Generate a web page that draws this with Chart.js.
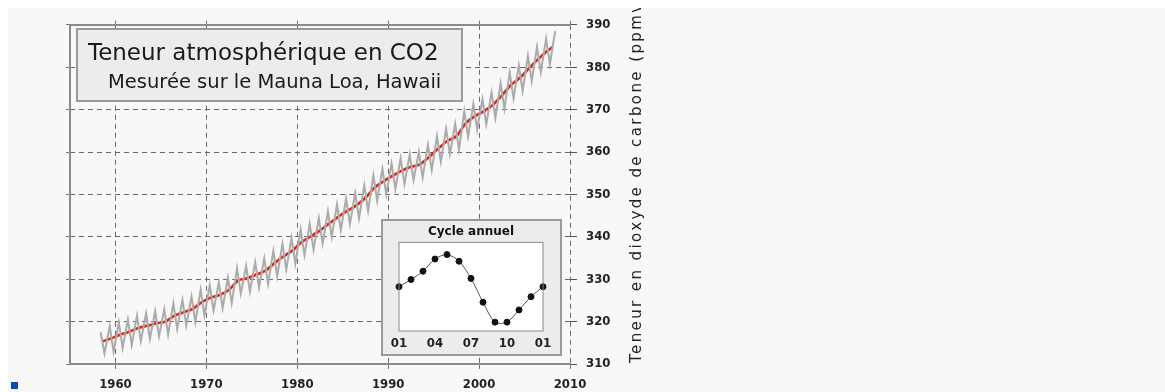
<!DOCTYPE html>
<html>
<head>
<meta charset="utf-8">
<script src="https://cdn.jsdelivr.net/npm/chart.js@4"></script>
<style>
  body { margin: 0; background: #fff; }
  #frame { position: absolute; left: 8px; top: 8px; width: 1157px; height: 384px; background: #f8f8f8; overflow: hidden; }
  #mainChart { position: absolute; left: 0; top: 0; }
  #inset { position: absolute; left: 373px; top: 211px; width: 177px; height: 133px; background: #ececec; border: 2px solid #9a9a9a; }
  #insetChart { position: absolute; left: -2px; top: -2px; }
  #marker { position: absolute; left: 11px; top: 382px; width: 7px; height: 7px; background: #0a4bb8; }
</style>
</head>
<body>
<div id="frame">
  <canvas id="mainChart" width="1157" height="384"></canvas>
  <div id="inset"><canvas id="insetChart" width="181" height="137"></canvas></div>
</div>
<div id="marker"></div>
<script>
// annual mean CO2 (ppmv), Mauna Loa
const trendYears = [1958.5, 1959.5, 1960.5, 1961.5, 1962.5, 1963.5, 1964.5, 1965.5, 1966.5, 1967.5,
    1968.5, 1969.5, 1970.5, 1971.5, 1972.5, 1973.5, 1974.5, 1975.5, 1976.5, 1977.5,
    1978.5, 1979.5, 1980.5, 1981.5, 1982.5, 1983.5, 1984.5, 1985.5, 1986.5, 1987.5,
    1988.5, 1989.5, 1990.5, 1991.5, 1992.5, 1993.5, 1994.5, 1995.5, 1996.5, 1997.5,
    1998.5, 1999.5, 2000.5, 2001.5, 2002.5, 2003.5, 2004.5, 2005.5, 2006.5, 2007.5, 2008.1]
const trendValues = [315.3, 316.0, 316.9, 317.6, 318.5, 319.0, 319.6, 320.0, 321.4, 322.2,
    323.0, 324.6, 325.7, 326.3, 327.5, 329.7, 330.2, 331.1, 332.0, 333.8,
    335.4, 336.8, 338.8, 340.1, 341.5, 343.1, 344.7, 346.1, 347.4, 349.2,
    351.6, 353.1, 354.4, 355.6, 356.5, 357.1, 358.8, 360.8, 362.6, 363.7,
    366.7, 368.4, 369.6, 371.1, 373.3, 375.8, 377.5, 379.8, 381.9, 383.8, 384.8]

// monthly record: spring maxima and autumn minima, one pair per year
const cycleYears = [1958, 1959, 1960, 1961, 1962, 1963, 1964, 1965, 1966, 1967,
    1968, 1969, 1970, 1971, 1972, 1973, 1974, 1975, 1976, 1977,
    1978, 1979, 1980, 1981, 1982, 1983, 1984, 1985, 1986, 1987,
    1988, 1989, 1990, 1991, 1992, 1993, 1994, 1995, 1996, 1997,
    1998, 1999, 2000, 2001, 2002, 2003, 2004, 2005, 2006, 2007, 2008]
const mayPeaks = [317.5, 318.9, 319.8, 320.5, 321.4, 321.9, 322.5, 322.9, 324.3, 325.1,
    325.9, 327.5, 328.6, 329.2, 330.4, 332.6, 333.1, 334.0, 334.9, 336.7,
    338.3, 339.7, 341.7, 343.0, 344.4, 346.0, 347.6, 349.0, 350.3, 352.1,
    354.5, 356.0, 357.3, 358.5, 359.4, 360.0, 361.7, 363.7, 365.5, 366.6,
    369.6, 371.3, 372.5, 374.0, 376.2, 378.7, 380.4, 382.7, 384.8, 386.7, 388.5]
const octTroughs = [312.5, 312.9, 313.8, 314.5, 315.4, 315.9, 316.5, 316.9, 318.3, 319.1,
    319.9, 321.5, 322.6, 323.2, 324.4, 326.6, 327.1, 328.0, 328.9, 330.7,
    332.3, 333.7, 335.7, 337.0, 338.4, 340.0, 341.6, 343.0, 344.3, 346.1,
    348.5, 350.0, 351.3, 352.5, 353.4, 354.0, 355.7, 357.7, 359.5, 360.6,
    363.6, 365.3, 366.5, 368.0, 370.2, 372.7, 374.4, 376.7, 378.8, 380.7]
const peakOffset = 0.37
const troughOffset = 0.79

// annual cycle inset (ppmv departure from the annual mean)
const cycleMonths = [1, 2, 3, 4, 5, 6, 7, 8, 9, 10, 11, 12, 13]
const cycleValues = [0.0, 0.65, 1.4, 2.5, 2.9, 2.3, 0.75, -1.4, -3.2, -3.2, -2.1, -0.9, 0.0]
const cycleTickLabels = { 1: '01', 4: '04', 7: '07', 10: '10', 13: '01' }

const xRange = [1955, 2010]
const yRange = [310, 390]

const titleLines = ['Teneur atmosphérique en CO2', 'Mesurée sur le Mauna Loa, Hawaii']
const axisTitle = 'Teneur en dioxyde de carbone (ppmv)'

const monthly = []
cycleYears.forEach((yr, i) => {
    monthly.push({ x: yr + peakOffset, y: mayPeaks[i] })
    if (i < octTroughs.length) monthly.push({ x: yr + troughOffset, y: octTroughs[i] })
})
const trend = trendYears.map((x, i) => ({ x, y: trendValues[i] }))

const tickFont = { family: "'DejaVu Sans Condensed', 'Liberation Sans Narrow', sans-serif", size: 13, weight: 'bold' }

const decorations = {
    id: 'decorations',
    afterDraw(chart) {
        const ctx = chart.ctx
        // title box
        ctx.save()
        ctx.fillStyle = '#ececec'
        ctx.strokeStyle = '#9a9a9a'
        ctx.lineWidth = 2
        ctx.fillRect(69, 21, 385, 72)
        ctx.strokeRect(69, 21, 385, 72)
        ctx.fillStyle = '#1a1a1a'
        ctx.textBaseline = 'alphabetic'
        ctx.font = "23px 'DejaVu Sans', sans-serif"
        ctx.fillText(titleLines[0], 80, 52)
        ctx.font = "19.5px 'DejaVu Sans', sans-serif"
        ctx.fillText(titleLines[1], 100, 80)
        // right axis title, bottom to top
        ctx.translate(629, 355)
        ctx.rotate(-Math.PI / 2)
        ctx.font = "15px 'DejaVu Sans', sans-serif"
        ctx.letterSpacing = '2.4px'
        ctx.fillStyle = '#222'
        ctx.textBaseline = 'middle'
        ctx.fillText(axisTitle, 0, 0)
        ctx.restore()
    }
}

new Chart(document.getElementById('mainChart'), {
    type: 'line',
    plugins: [decorations],
    data: {
        datasets: [{
            data: monthly,
            borderColor: '#ababab',
            borderWidth: 2,
            pointRadius: 0,
            tension: 0
        }, {
            data: monthly,
            borderColor: '#e6e6e6',
            borderWidth: 0.8,
            pointRadius: 0,
            tension: 0
        }, {
            data: trend,
            borderColor: '#dc2219',
            borderWidth: 2.6,
            pointRadius: 0,
            tension: 0.3
        }]
    },
    options: {
        responsive: false,
        animation: false,
        layout: { padding: 0 },
        plugins: { legend: { display: false }, tooltip: { enabled: false } },
        scales: {
            x: {
                type: 'linear',
                position: 'bottom',
                min: xRange[0],
                max: xRange[1],
                afterFit: s => { s.height = 28 },
                ticks: { stepSize: 10, includeBounds: false, font: tickFont, color: '#222', padding: 8, maxRotation: 0, autoSkip: false, callback: v => String(v) },
                grid: { color: '#6a6a6a', lineWidth: 1, tickLength: 5, tickColor: '#777' },
                border: { color: '#8a8a8a', width: 2, dash: [5, 4] }
            },
            x2: {
                type: 'linear',
                position: 'top',
                min: xRange[0],
                max: xRange[1],
                afterFit: s => { s.height = 15 },
                ticks: { display: false, stepSize: 10, includeBounds: false },
                grid: { drawOnChartArea: false, tickLength: 4, tickColor: '#777' },
                border: { color: '#8a8a8a', width: 2 }
            },
            yL: {
                type: 'linear',
                position: 'left',
                min: yRange[0],
                max: yRange[1],
                afterFit: s => { s.width = 62 },
                ticks: { display: false, stepSize: 10 },
                grid: { drawOnChartArea: false, tickLength: 4, tickColor: '#777' },
                border: { color: '#8a8a8a', width: 2 }
            },
            y: {
                type: 'linear',
                position: 'right',
                min: yRange[0],
                max: yRange[1],
                afterFit: s => { s.width = 595 },
                ticks: { stepSize: 10, font: tickFont, color: '#222', padding: 9 },
                grid: { color: '#6a6a6a', lineWidth: 1, tickLength: 7, tickColor: '#555' },
                border: { display: false, dash: [5, 4] }
            }
        }
    }
})

const insetFrame = {
    id: 'insetFrame',
    beforeDatasetsDraw(chart) {
        const { ctx, chartArea: a } = chart
        ctx.save()
        ctx.fillStyle = '#ffffff'
        ctx.fillRect(a.left, a.top, a.right - a.left, a.bottom - a.top)
        ctx.restore()
    },
    afterDraw(chart) {
        const { ctx, chartArea: a } = chart
        ctx.save()
        ctx.strokeStyle = '#8a8a8a'
        ctx.lineWidth = 1
        ctx.strokeRect(a.left, a.top, a.right - a.left, a.bottom - a.top)
        ctx.restore()
    }
}

new Chart(document.getElementById('insetChart'), {
    type: 'line',
    plugins: [insetFrame],
    data: {
        labels: cycleMonths,
        datasets: [{
            data: cycleMonths.map((m, i) => ({ x: m, y: cycleValues[i] })),
            borderColor: '#555',
            borderWidth: 1,
            pointRadius: 3,
            pointBackgroundColor: '#111',
            pointBorderColor: '#111',
            tension: 0.3,
            clip: false
        }]
    },
    options: {
        responsive: false,
        animation: false,
        layout: { padding: { left: 18, right: 19, top: 0, bottom: 0 } },
        plugins: {
            legend: { display: false },
            tooltip: { enabled: false },
            title: {
                display: true,
                text: 'Cycle annuel',
                font: { family: "'DejaVu Sans', sans-serif", size: 12, weight: 'bold' },
                color: '#111',
                padding: { top: 6, bottom: 3 }
            }
        },
        scales: {
            x: {
                type: 'linear',
                min: 1,
                max: 13,
                afterFit: s => { s.height = 25 },
                ticks: {
                    stepSize: 3,
                    font: tickFont,
                    color: '#222',
                    padding: 5,
                    maxRotation: 0,
                    callback: v => cycleTickLabels[v]
                },
                grid: { drawOnChartArea: false, tickLength: 0 },
                border: { display: false }
            },
            y: {
                display: false,
                min: -4,
                max: 4
            }
        }
    }
})
</script>
</body>
</html>
